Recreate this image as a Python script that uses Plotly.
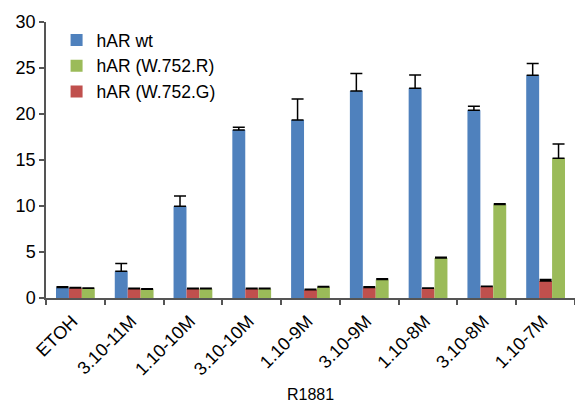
import plotly.graph_objects as go

categories = ["ETOH", "3.10-11M", "1.10-10M", "3.10-10M", "1.10-9M", "3.10-9M", "1.10-8M", "3.10-8M", "1.10-7M"]
wt_vals = [1.13, 2.9, 9.98, 18.25, 19.34, 22.5, 22.8, 20.4, 24.2]
wt_err = [0.1, 0.85, 1.1, 0.3, 2.3, 1.9, 1.45, 0.45, 1.3]
g_vals = [1.1, 1.0, 1.0, 1.0, 0.9, 1.13, 1.05, 1.24, 1.85]
g_err = [0.05, 0.05, 0.05, 0.05, 0.05, 0.1, 0.05, 0.05, 0.15]
r_vals = [1.05, 0.95, 1.0, 1.0, 1.2, 2.0, 4.35, 10.15, 15.2]
r_err = [0.05, 0.05, 0.05, 0.05, 0.05, 0.1, 0.08, 0.1, 1.55]

font_family = "Liberation Sans, Arial, Helvetica, sans-serif"

def mk(name, vals, err, color, rank):
    return go.Bar(
        name=name, x=categories, y=vals, marker=dict(color=color, line=dict(width=0)),
        error_y=dict(type="data", array=err, arrayminus=[0]*len(err), symmetric=False,
                     color="black", thickness=1.5, width=6),
        legendrank=rank,
    )

fig = go.Figure()
fig.add_trace(mk("hAR wt", wt_vals, wt_err, "#4F81BD", 1))
fig.add_trace(mk("hAR (W.752.G)", g_vals, g_err, "#C0504D", 3))
fig.add_trace(mk("hAR (W.752.R)", r_vals, r_err, "#9BBB59", 2))

fig.update_layout(
    width=575, height=407,
    margin=dict(l=46, r=0, t=22, b=109),
    paper_bgcolor="white", plot_bgcolor="white",
    barmode="group", bargap=0.34, bargroupgap=0,
    font=dict(family=font_family, size=16, color="black"),
    showlegend=True,
    legend=dict(x=0.02, y=1.0, xanchor="left", yanchor="top", bgcolor="rgba(0,0,0,0)",
                font=dict(size=17.5), traceorder="normal"),
    xaxis=dict(
        title=dict(text="R1881", font=dict(size=16), standoff=10),
        tickangle=-45, tickfont=dict(size=18), ticklabelstandoff=4, ticklabelshift=-3,
        showline=True, linecolor="#555555", linewidth=1.5,
        ticks="outside", ticklen=5, tickcolor="#555555", tickwidth=1.5,
        tickson="boundaries", showgrid=False,
    ),
    yaxis=dict(
        range=[0, 30], dtick=5, tickfont=dict(size=18),
        showline=True, linecolor="#555555", linewidth=1.5,
        ticks="outside", ticklen=5, tickcolor="#555555", tickwidth=1.5,
        showgrid=False, zeroline=False,
    ),
)

fig.write_html("out.html", config={"displayModeBar": False},
               post_script="document.body.style.margin='0';document.body.style.overflow='hidden';")
